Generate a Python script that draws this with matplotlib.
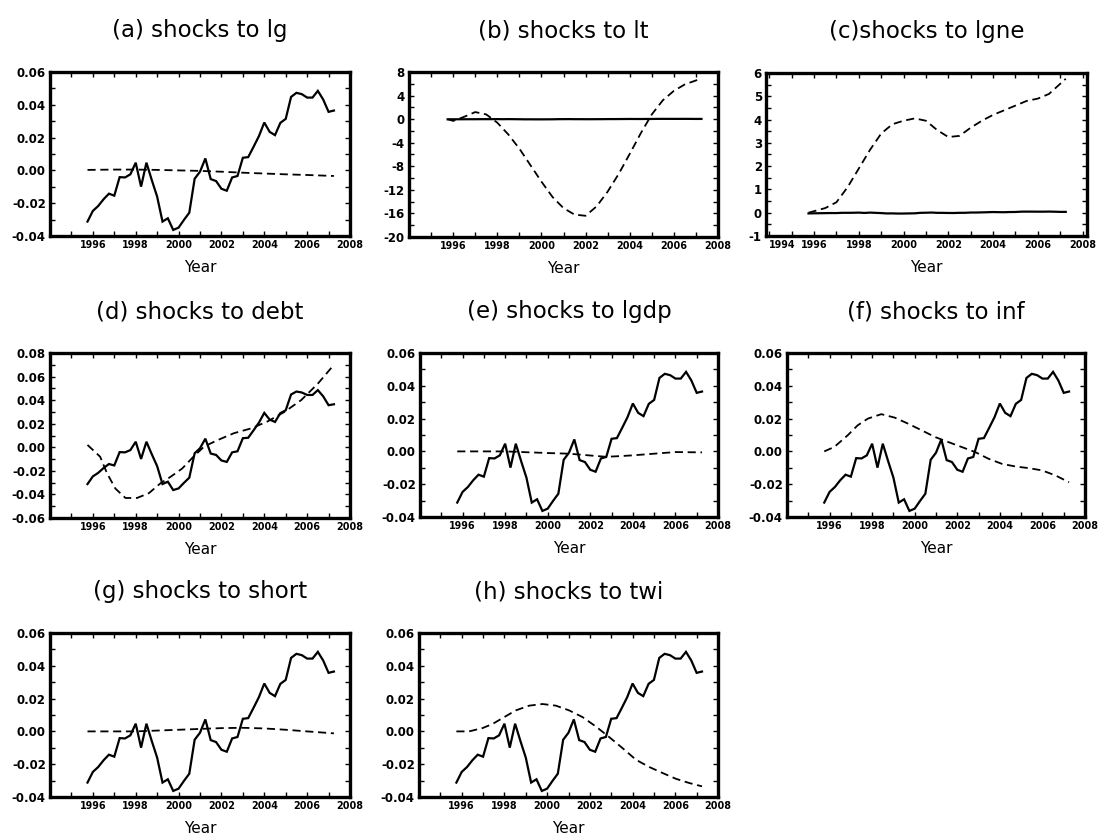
import numpy as np
import pandas as pd
import matplotlib
matplotlib.use("Agg")
import matplotlib.pyplot as plt
from matplotlib.ticker import MultipleLocator
from matplotlib import font_manager

# ---------------- data ----------------
quarters = pd.period_range("1995Q4", "2007Q2", freq="Q")
qyears = np.asarray(quarters.year + (quarters.quarter - 1) / 4.0, dtype=float)

# actual series (solid line, same in every panel)
lg = [-0.0312, -0.0247, -0.0217, -0.0176, -0.0142, -0.0154, -0.0041, -0.0043,
      -0.0024, 0.0047, -0.0099, 0.0047, -0.0059, -0.0160, -0.0312, -0.0292,
      -0.0363, -0.0349, -0.0302, -0.0258, -0.0051, -0.0008, 0.0073, -0.0053,
      -0.0065, -0.0112, -0.0124, -0.0043, -0.0034, 0.0077, 0.0081, 0.0144,
      0.0209, 0.0292, 0.0235, 0.0215, 0.0290, 0.0314, 0.0448, 0.0473,
      0.0465, 0.0444, 0.0444, 0.0485, 0.0432, 0.0357, 0.0365]

# shock contributions (dashed lines)
t_lg = [1995.75, 1997.0, 1998.0, 1999.0, 2000.0, 2001.0, 2002.0, 2003.0, 2004.0, 2005.0, 2006.0, 2007.25]
v_lg = [0.0003, 0.0005, 0.0005, 0.0003, 0.0, -0.0003, -0.0008, -0.0014, -0.0019, -0.0024, -0.0028, -0.0034]

t_lt = [1995.75, 1996.0, 1996.5, 1997.0, 1997.5, 1998.0, 1998.5, 1999.0, 1999.5, 2000.0, 2000.5, 2001.0,
        2001.5, 2002.0, 2002.5, 2003.0, 2003.5, 2004.0, 2004.5, 2005.0, 2005.5, 2006.0, 2006.5, 2007.25]
v_lt = [0.0, -0.3, 0.4, 1.2, 0.8, -0.6, -2.6, -5.0, -7.8, -10.6, -13.2, -15.1,
        -16.2, -16.4, -14.8, -12.3, -9.3, -5.9, -2.4, 0.8, 3.2, 4.8, 5.9, 6.9]

t_lgne = [1995.75, 1996.5, 1997.0, 1997.5, 1998.0, 1998.5, 1999.0, 1999.5, 2000.0, 2000.5, 2001.0, 2001.5,
          2002.0, 2002.5, 2003.0, 2003.5, 2004.0, 2004.5, 2005.0, 2005.5, 2006.0, 2006.5, 2007.25]
v_lgne = [0.0, 0.2, 0.45, 1.1, 1.9, 2.7, 3.4, 3.8, 3.95, 4.05, 3.95, 3.55,
          3.25, 3.3, 3.65, 3.95, 4.2, 4.4, 4.6, 4.8, 4.9, 5.1, 5.75]

t_debt = [1995.75, 1996.34, 1996.66, 1997.05, 1997.52, 1998.06, 1998.61, 1999.16, 1999.63, 2000.17,
          2000.64, 2001.19, 2001.81, 2002.59, 2003.38, 2004.16, 2004.94, 2005.72, 2006.5, 2007.25]
v_debt = [0.002, -0.008, -0.022, -0.035, -0.043, -0.043, -0.039, -0.0305, -0.025, -0.018,
          -0.009, 0.0006, 0.006, 0.012, 0.016, 0.022, 0.030, 0.040, 0.054, 0.070]

t_lgdp = [1995.75, 1998.0, 1999.0, 2000.0, 2001.0, 2002.0, 2002.75, 2003.5, 2004.0, 2005.0, 2006.0, 2007.25]
v_lgdp = [0.0, 0.0, -0.0005, -0.001, -0.0014, -0.0025, -0.0033, -0.0028, -0.0024, -0.0014, -0.0004, -0.0006]

t_inf = [1995.75, 1996.22, 1996.85, 1997.32, 1997.8, 1998.43, 1999.06, 1999.69, 2000.32, 2000.95,
         2001.58, 2002.2, 2002.84, 2003.47, 2004.1, 2004.73, 2005.36, 2005.99, 2006.62, 2007.25]
v_inf = [0.0, 0.0027, 0.0098, 0.0159, 0.020, 0.0227, 0.0206, 0.0169, 0.0129, 0.0088,
         0.0057, 0.0027, -0.0004, -0.0045, -0.0076, -0.0092, -0.0102, -0.0116, -0.0147, -0.0188]

t_short = [1995.75, 1997.0, 1998.0, 1999.0, 2000.0, 2001.0, 2002.0, 2003.0, 2004.0, 2005.0, 2006.0, 2007.25]
v_short = [0.0, 0.0, 0.0, 0.0005, 0.001, 0.0015, 0.002, 0.0022, 0.0018, 0.001, 0.0, -0.0012]

t_twi = [1995.75, 1996.34, 1996.97, 1997.44, 1997.91, 1998.53, 1999.16, 1999.78, 2000.41, 2001.03,
         2001.66, 2002.28, 2002.91, 2003.53, 2004.16, 2004.78, 2005.41, 2006.03, 2006.66, 2007.25]
v_twi = [0.0, 0.0, 0.002, 0.0045, 0.0081, 0.0128, 0.0157, 0.0167, 0.0157, 0.0128,
         0.0087, 0.003, -0.0035, -0.0102, -0.0173, -0.0217, -0.0254, -0.0289, -0.0315, -0.0335]

titles = ["(a) shocks to lg", "(b) shocks to lt", "(c)shocks to lgne", "(d) shocks to debt",
          "(e) shocks to lgdp", "(f) shocks to inf", "(g) shocks to short", "(h) shocks to twi"]
dashed_t = [t_lg, t_lt, t_lgne, t_debt, t_lgdp, t_inf, t_short, t_twi]
dashed_v = [v_lg, v_lt, v_lgne, v_debt, v_lgdp, v_inf, v_short, v_twi]

# ---------------- layout / style ----------------
W, H = 1100, 834
# (left, right, top, bottom) in pixels
boxes = [(50, 350, 72, 236), (409, 718, 72, 237), (766, 1087, 73, 236),
         (50, 350, 353, 518), (420, 718, 353, 517), (787, 1085, 353, 517),
         (50, 350, 633, 797), (419, 718, 633, 797)]
ylims = [(-0.04, 0.06), (-20, 8), (-1, 6), (-0.06, 0.08),
         (-0.04, 0.06), (-0.04, 0.06), (-0.04, 0.06), (-0.04, 0.06)]
ymaj = [0.02, 4, 1, 0.02, 0.02, 0.02, 0.02, 0.02]
ymin = [0.01, 2, 0.5, 0.01, 0.01, 0.01, 0.01, 0.01]

avail = {f.name for f in font_manager.fontManager.ttflist}
xfont = "Liberation Sans Narrow" if "Liberation Sans Narrow" in avail else "DejaVu Sans"
xsize = 8.5 if xfont == "Liberation Sans Narrow" else 6.9

fig = plt.figure(figsize=(W / 100, H / 100), dpi=100)
fig.patch.set_facecolor("white")

for i, (l, r, t, b) in enumerate(boxes):
    ax = fig.add_axes([l / W, 1 - b / H, (r - l) / W, (b - t) / H])
    ax.plot(qyears, lg, color="black", lw=1.6, solid_joinstyle="miter")
    ax.plot(dashed_t[i], dashed_v[i], color="black", lw=1.3, linestyle=(0, (4.5, 2.6)))
    if i == 2:
        ax.set_xlim(1993.85, 2008.2)
        xt = list(range(1994, 2009, 2))
    else:
        ax.set_xlim(1994, 2008)
        xt = list(range(1996, 2009, 2))
    ax.set_xticks(xt)
    ax.set_xticklabels([str(v) for v in xt], fontfamily=xfont, fontweight="bold", fontsize=xsize)
    if i == 2:
        ax.get_xticklabels()[0].set_horizontalalignment("left")
    ax.xaxis.set_minor_locator(MultipleLocator(1))
    ax.set_ylim(*ylims[i])
    ax.yaxis.set_major_locator(MultipleLocator(ymaj[i]))
    ax.yaxis.set_minor_locator(MultipleLocator(ymin[i]))
    if ymaj[i] < 1:
        ax.yaxis.set_major_formatter(plt.FuncFormatter(lambda v, p: f"{v:.2f}"))
    else:
        ax.yaxis.set_major_formatter(plt.FuncFormatter(lambda v, p: f"{v:.0f}"))
    for lab in ax.get_yticklabels():
        lab.set_fontweight("bold")
        lab.set_fontsize(8.5)
    ax.tick_params(which="both", direction="in", top=True, right=True,
                   length=3.5, width=1.0, pad=3)
    for sp in ax.spines.values():
        sp.set_linewidth(2.4)
    ax.set_title(titles[i], fontsize=16.5, pad=25, fontfamily="DejaVu Sans")
    ax.set_xlabel("Year", fontsize=11, labelpad=7)

fig.savefig("out.png", dpi=100, facecolor="white")
